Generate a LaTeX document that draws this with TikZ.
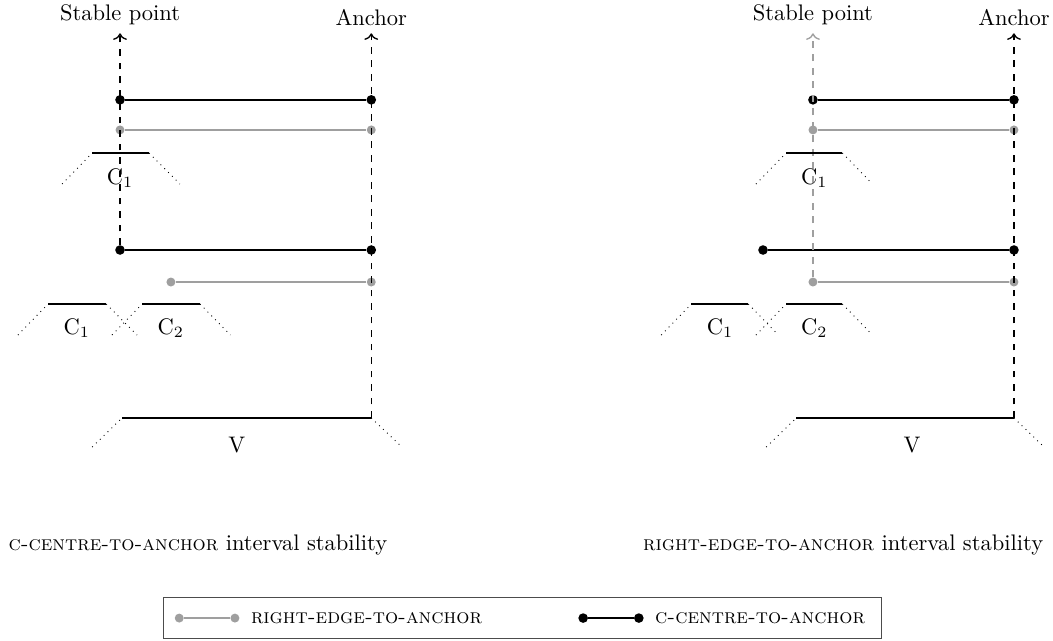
\documentclass[tikz,border=0pt]{standalone}
\usepackage{tikz}
\usetikzlibrary{arrows.meta,positioning}
\newcommand{\modename}[1]{{\fontsize{9.2pt}{11pt}\selectfont\textsc{#1}}}

\begin{document}
\begin{tikzpicture}[
  bdot/.style={circle, fill=black, inner sep=0pt, minimum size=0.15cm},
  gdot/.style={circle, fill=gray!75, inner sep=0pt, minimum size=0.14cm},
  cline/.style={thick, draw=black},
  rline/.style={thick, draw=gray!75},
  guide/.style={->, semithick, dashed},
  gguide/.style={guide, draw=gray!75},
  edge/.style={thick},
  slope/.style={dotted},
  tag/.style={anchor=south}
]
  \useasboundingbox (0,0) rectangle (16.45,10);

  % left: c-centre-to-anchor
  \node[tag] (lsp) at (1.875,9.48) {Stable point};
  \node[tag] (lanc) at (5.8,9.48) {Anchor};
  \coordinate (lvr) at (5.8,3.47);

  \node[bdot] (lb1a) at (1.875,8.44) {};
  \node[bdot] (lb1b) at (5.8,8.44) {};
  \node[gdot] (lg1a) at (1.875,7.97) {};
  \node[gdot] (lg1b) at (5.8,7.97) {};
  \node[bdot] (lb2a) at (1.875,6.094) {};
  \node[bdot] (lb2b) at (5.8,6.094) {};
  \node[gdot] (lg2a) at (2.67,5.594) {};
  \node[gdot] (lg2b) at (5.8,5.594) {};

  \draw[guide] (lb2a) -- (lsp.south);
  \draw[guide] (lvr) -- (lanc.south);

  \draw[cline] (lb1a) -- (lb1b);
  \draw[rline] (lg1a) -- (lg1b);
  \draw[cline] (lb2a) -- (lb2b);
  \draw[rline] (lg2a) -- (lg2b);

  % C blocks, left
  \draw[slope] (0.97,7.125) -- (1.44,7.609);
  \draw[edge] (1.44,7.609) -- (2.33,7.609);
  \draw[slope] (2.33,7.609) -- (2.81,7.125);
  \node (lc1) at (1.875,7.22) {C$_1$};

  \draw[slope] (0.28,4.766) -- (0.75,5.25);
  \draw[edge] (0.75,5.25) -- (1.66,5.25);
  \draw[slope] (1.66,5.25) -- (2.14,4.766);
  \node (lc1b) at (1.2,4.875) {C$_1$};

  \draw[slope] (1.75,4.766) -- (2.22,5.25);
  \draw[edge] (2.22,5.25) -- (3.125,5.25);
  \draw[slope] (3.125,5.25) -- (3.6,4.766);
  \node (lc2b) at (2.67,4.875) {C$_2$};

  \draw[slope] (1.44,3.016) -- (1.906,3.47);
  \draw[edge] (1.906,3.47) -- (lvr);
  \draw[slope] (lvr) -- (6.28,3.016);
  \node (lv) at (3.7,3.05) {V};

  \node[anchor=west] (lcap) at (0.01,1.48) {\modename{c-centre-to-anchor} interval stability};

  % right: right-edge-to-anchor
  \node[tag] (rsp) at (12.7,9.48) {Stable point};
  \node[tag] (ranc) at (15.84,9.48) {Anchor};
  \coordinate (rvr) at (15.84,3.47);

  \node[bdot] (rb1a) at (12.7,8.44) {};
  \node[bdot] (rb1b) at (15.84,8.44) {};
  \node[gdot] (rg1a) at (12.7,7.97) {};
  \node[gdot] (rg1b) at (15.84,7.97) {};
  \node[bdot] (rb2a) at (11.92,6.094) {};
  \node[bdot] (rb2b) at (15.84,6.094) {};
  \node[gdot] (rg2a) at (12.7,5.594) {};
  \node[gdot] (rg2b) at (15.84,5.594) {};

  \draw[guide] (rvr) -- (ranc.south);

  \draw[cline] (rb1a) -- (rb1b);
  \draw[rline] (rg1a) -- (rg1b);
  \draw[cline] (rb2a) -- (rb2b);
  \draw[rline] (rg2a) -- (rg2b);

  \draw[gguide] (rg2a) -- (rsp.south);

  % C blocks, right
  \draw[slope] (11.81,7.125) -- (12.28,7.609);
  \draw[edge] (12.28,7.609) -- (13.16,7.609);
  \draw[slope] (13.16,7.609) -- (13.63,7.125);
  \node (rc1) at (12.72,7.22) {C$_1$};

  \draw[slope] (10.33,4.766) -- (10.8,5.25);
  \draw[edge] (10.8,5.25) -- (11.69,5.25);
  \draw[slope] (11.69,5.25) -- (12.16,4.766);
  \node (rc1b) at (11.25,4.875) {C$_1$};

  \draw[slope] (11.81,4.766) -- (12.28,5.25);
  \draw[edge] (12.28,5.25) -- (13.16,5.25);
  \draw[slope] (13.16,5.25) -- (13.63,4.766);
  \node (rc2b) at (12.72,4.875) {C$_2$};

  \draw[slope] (11.97,3.016) -- (12.44,3.47);
  \draw[edge] (12.44,3.47) -- (rvr);
  \draw[slope] (rvr) -- (16.31,3.016);
  \node (rv) at (14.25,3.05) {V};

  \node[anchor=east] (rcap) at (16.42,1.48) {\modename{right-edge-to-anchor} interval stability};

  % legend
  \node[draw=black!70, minimum width=11.22cm, minimum height=0.64cm] (legend) at (8.16,0.35) {};
  \node[gdot] (kg1) at (2.8,0.344) {};
  \node[gdot] (kg2) at (3.67,0.344) {};
  \draw[rline] (kg1) -- (kg2);
  \node[right=0.05cm of kg2] (kgtxt) {\modename{right-edge-to-anchor}};
  \node[bdot] (kb1) at (9.11,0.344) {};
  \node[bdot] (kb2) at (9.98,0.344) {};
  \draw[cline] (kb1) -- (kb2);
  \node[right=0.05cm of kb2] (kbtxt) {\modename{c-centre-to-anchor}};
\end{tikzpicture}
\end{document}
